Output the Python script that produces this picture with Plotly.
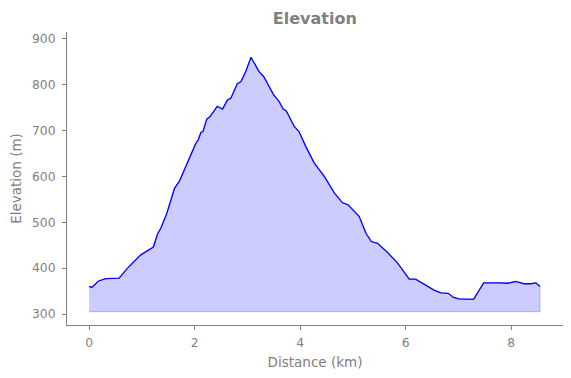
import plotly.graph_objects as go

dist_km = [0.00, 0.05, 0.18, 0.32, 0.57, 0.73, 0.98, 1.12, 1.22, 1.30, 1.36, 1.47,
           1.55, 1.62, 1.71, 1.79, 1.87, 1.96, 2.02, 2.07, 2.12, 2.16, 2.23, 2.29,
           2.43, 2.53, 2.62, 2.69, 2.81, 2.88, 2.97, 3.07, 3.22, 3.31, 3.38, 3.50,
           3.60, 3.68, 3.74, 3.89, 3.98, 4.11, 4.27, 4.46, 4.65, 4.80, 4.91, 5.12,
           5.25, 5.35, 5.47, 5.66, 5.85, 5.97, 6.07, 6.19, 6.38, 6.54, 6.67, 6.81,
           6.91, 7.01, 7.29, 7.48, 7.80, 7.94, 8.09, 8.24, 8.37, 8.47, 8.55]
elev_m = [360, 358, 372, 377, 378, 400, 429, 440, 446, 475, 487, 518,
          549, 574, 589, 611, 633, 658, 671, 680, 696, 698, 725, 730,
          753, 747, 766, 771, 802, 807, 829, 860, 829, 818, 804, 778,
          764, 747, 743, 709, 698, 665, 629, 600, 564, 543, 538, 513,
          476, 458, 454, 434, 411, 392, 376, 376, 363, 352, 346, 345,
          336, 333, 332, 368, 368, 367, 371, 366, 366, 368, 360]
base_elev = 305

x_ticks = [0, 2, 4, 6, 8]
y_ticks = [300, 400, 500, 600, 700, 800, 900]

GRAY = "#808080"

fig = go.Figure()
# filled area polygon (light)
poly_x = dist_km + dist_km[::-1]
poly_y = elev_m + [base_elev] * len(dist_km)
fig.add_trace(go.Scatter(
    x=poly_x, y=poly_y, mode="lines", fill="toself",
    fillcolor="rgba(0,0,255,0.2)",
    line=dict(color="rgba(0,0,255,0.22)", width=1),
    hoverinfo="skip", showlegend=False))
# elevation line
fig.add_trace(go.Scatter(
    x=dist_km, y=elev_m, mode="lines",
    line=dict(color="#0000ff", width=1.3),
    showlegend=False))

axis_common = dict(
    showline=True, linecolor=GRAY, linewidth=1,
    ticks="outside", ticklen=4, tickcolor=GRAY, tickwidth=1,
    showgrid=False, zeroline=False, mirror=False,
    tickfont=dict(family="DejaVu Sans", size=12.3, color=GRAY),
)

# page body has an 8px margin, so the figure is sized to fit the window
fig.update_layout(
    width=563, height=370,
    margin=dict(l=59, r=8, t=24, b=53),
    paper_bgcolor="white", plot_bgcolor="white",
    title=dict(text="<b>Elevation</b>", x=0.545, xanchor="center",
               y=0.973, yanchor="middle",
               font=dict(family="DejaVu Sans", size=16, color=GRAY)),
    xaxis=dict(range=[-0.418, 8.985], tickvals=x_ticks,
               ticktext=[str(v) for v in x_ticks],
               title=dict(text="Distance (km)", standoff=8,
                          font=dict(family="DejaVu Sans", size=13.5, color=GRAY)),
               **axis_common),
    yaxis=dict(range=[276, 915], tickvals=y_ticks,
               ticktext=[str(v) for v in y_ticks],
               title=dict(text="Elevation (m)", standoff=9,
                          font=dict(family="DejaVu Sans", size=13.5, color=GRAY)),
               **axis_common),
)
fig.update_xaxes(automargin=False, ticklabelstandoff=2)
fig.update_yaxes(automargin=False, ticklabelstandoff=4)

fig.write_html("out.html")
